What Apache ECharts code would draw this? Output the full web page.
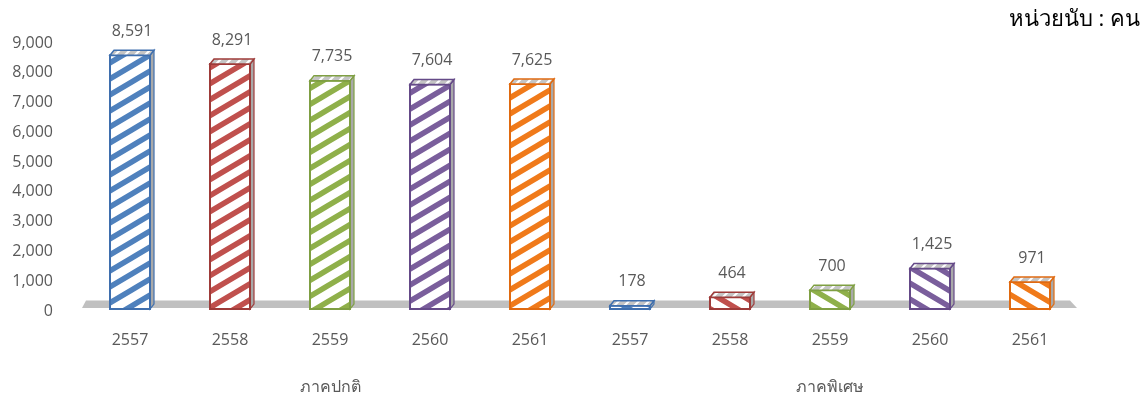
<!DOCTYPE html>
<html>
<head>
<meta charset="utf-8">
<script src="https://cdn.jsdelivr.net/npm/echarts@6/dist/echarts.min.js"></script>
<style>
html,body{margin:0;padding:0;background:#fff;}
#c{width:1146px;height:402px;}
</style>
</head>
<body>
<div id="c"></div>
<script>
// ---- data ----
var years = ['2557', '2558', '2559', '2560', '2561'];
var groups = ['ภาคปกติ', 'ภาคพิเศษ'];
var regularValues = [8591, 8291, 7735, 7604, 7625];
var specialValues = [178, 464, 700, 1425, 971];
var yTicks = [0, 1000, 2000, 3000, 4000, 5000, 6000, 7000, 8000, 9000];
var unitLabel = 'หน่วยนับ : คน';

// ---- styles ----
var colors = ['#4F81BD', '#C0504D', '#8FB04A', '#7A5E9C', '#F07A1A'];
var edgeColors = ['#3F6FAE', '#9E3B39', '#7F9F43', '#654A88', '#E06A10'];
var FONT = '"Open Sans","Noto Sans","Liberation Sans",sans-serif';

function makePattern(color, dir) {
  var W = 27, H = 16;
  var c = document.createElement('canvas');
  c.width = W; c.height = H;
  var g = c.getContext('2d');
  g.fillStyle = '#fff';
  g.fillRect(0, 0, W, H);
  g.strokeStyle = color;
  g.lineWidth = 5.5;
  g.beginPath();
  for (var k = -2; k <= 2; k++) {
    if (dir > 0) { g.moveTo(k * W - W, 2 * H); g.lineTo(k * W + 2 * W, -H); }
    else { g.moveTo(k * W - W, -H); g.lineTo(k * W + 2 * W, 2 * H); }
  }
  g.stroke();
  return c;
}
function makeTopPattern() {
  var s = 10;
  var c = document.createElement('canvas');
  c.width = s; c.height = s;
  var g = c.getContext('2d');
  g.fillStyle = '#C4C4C4';
  g.fillRect(0, 0, s, s);
  g.strokeStyle = '#FFFFFF';
  g.lineWidth = 2;
  g.beginPath();
  for (var k = -2; k <= 2; k++) { g.moveTo(k * s - s, 2 * s); g.lineTo(k * s + 2 * s, -s); }
  g.stroke();
  return c;
}

var patterns = [];
for (var i = 0; i < colors.length; i++) {
  patterns.push({ up: makePattern(colors[i], 1), down: makePattern(colors[i], -1), top: makeTopPattern() });
}

// build bar data from arrays: [categoryIndex, value, colorIndex, patternDir]
var barData = [];
regularValues.forEach(function (v, i) { barData.push([i, v, i, 1]); });
specialValues.forEach(function (v, i) { barData.push([years.length + i, v, i, -1]); });
var xCats = years.concat(years);

function fmt(n) { return String(n).replace(/\B(?=(\d{3})+(?!\d))/g, ','); }

var DX = 4, DY = 5;

var chart = echarts.init(document.getElementById('c'));
chart.setOption({
  animation: false,
  backgroundColor: '#ffffff',
  graphic: [{
    type: 'text', right: 6, top: 9,
    style: { text: unitLabel, font: '22px ' + FONT, fill: '#000000' }
  }],
  grid: { left: 80, right: 66, top: 43, bottom: 91, containLabel: false },
  xAxis: [{
    type: 'category',
    data: xCats,
    position: 'bottom',
    axisLine: { show: false },
    axisTick: { show: false },
    axisLabel: { color: '#595959', fontSize: 16, fontFamily: FONT, margin: 21, interval: 0 }
  }, {
    type: 'category',
    data: groups,
    position: 'bottom',
    offset: 47,
    axisLine: { show: false },
    axisTick: { show: false },
    axisLabel: { color: '#595959', fontSize: 16, fontFamily: FONT, margin: 21, interval: 0 }
  }],
  yAxis: {
    type: 'value',
    min: yTicks[0],
    max: yTicks[yTicks.length - 1],
    interval: yTicks[1] - yTicks[0],
    axisLine: { show: false },
    axisTick: { show: false },
    splitLine: { show: false },
    axisLabel: {
      color: '#595959', fontSize: 16, fontFamily: FONT, margin: 27,
      formatter: function (v) { return fmt(v); }
    }
  },
  series: [{
    type: 'custom',
    xAxisIndex: 0,
    z: 1,
    data: [[0, 0]],
    silent: true,
    renderItem: function (params, api) {
      var cs = params.coordSys;
      var yb = api.coord([0, 0])[1];
      return {
        type: 'polygon',
        shape: { points: [
          [cs.x + 6, yb - 10.5], [cs.x + cs.width - 10, yb - 10.5],
          [cs.x + cs.width - 3, yb - 3], [cs.x + 2, yb - 3]
        ] },
        style: { fill: '#C0C0C0' }
      };
    }
  }, {
    type: 'custom',
    xAxisIndex: 0,
    z: 2,
    data: barData,
    renderItem: function (params, api) {
      var idx = api.value(0), v = api.value(1), ci = api.value(2), dir = api.value(3);
      var pTop = api.coord([idx, v]);
      var pBase = api.coord([idx, 0]);
      var bw = api.size([1, 0])[0] * 0.40;
      var x0 = pTop[0] - bw / 2;
      var x1 = x0 + bw;
      var yt = pTop[1];
      var yb = pBase[1] - 2;
      var edge = edgeColors[ci];
      var p = patterns[ci];
      return {
        type: 'group',
        children: [{
          type: 'polygon',
          shape: { points: [[x1, yt], [x1 + DX, yt - DY], [x1 + DX, yb - DY], [x1, yb]] },
          style: { fill: '#A9A9A9', stroke: edge, lineWidth: 1.2 }
        }, {
          type: 'rect',
          shape: { x: x0, y: yt, width: bw, height: yb - yt },
          style: { fill: { image: dir > 0 ? p.up : p.down, repeat: 'repeat' }, stroke: edge, lineWidth: 2 }
        }, {
          type: 'polygon',
          shape: { points: [[x0, yt], [x1, yt], [x1 + DX, yt - DY], [x0 + DX, yt - DY]] },
          style: { fill: { image: p.top, repeat: 'repeat' }, stroke: edge, lineWidth: 1.5 }
        }, {
          type: 'text',
          style: {
            text: fmt(v), x: (x0 + x1) / 2 + DX / 2, y: yt - DY - 19,
            align: 'center', verticalAlign: 'middle',
            font: '16px ' + FONT, fill: '#595959'
          }
        }]
      };
    }
  }]
});
</script>
</body>
</html>
